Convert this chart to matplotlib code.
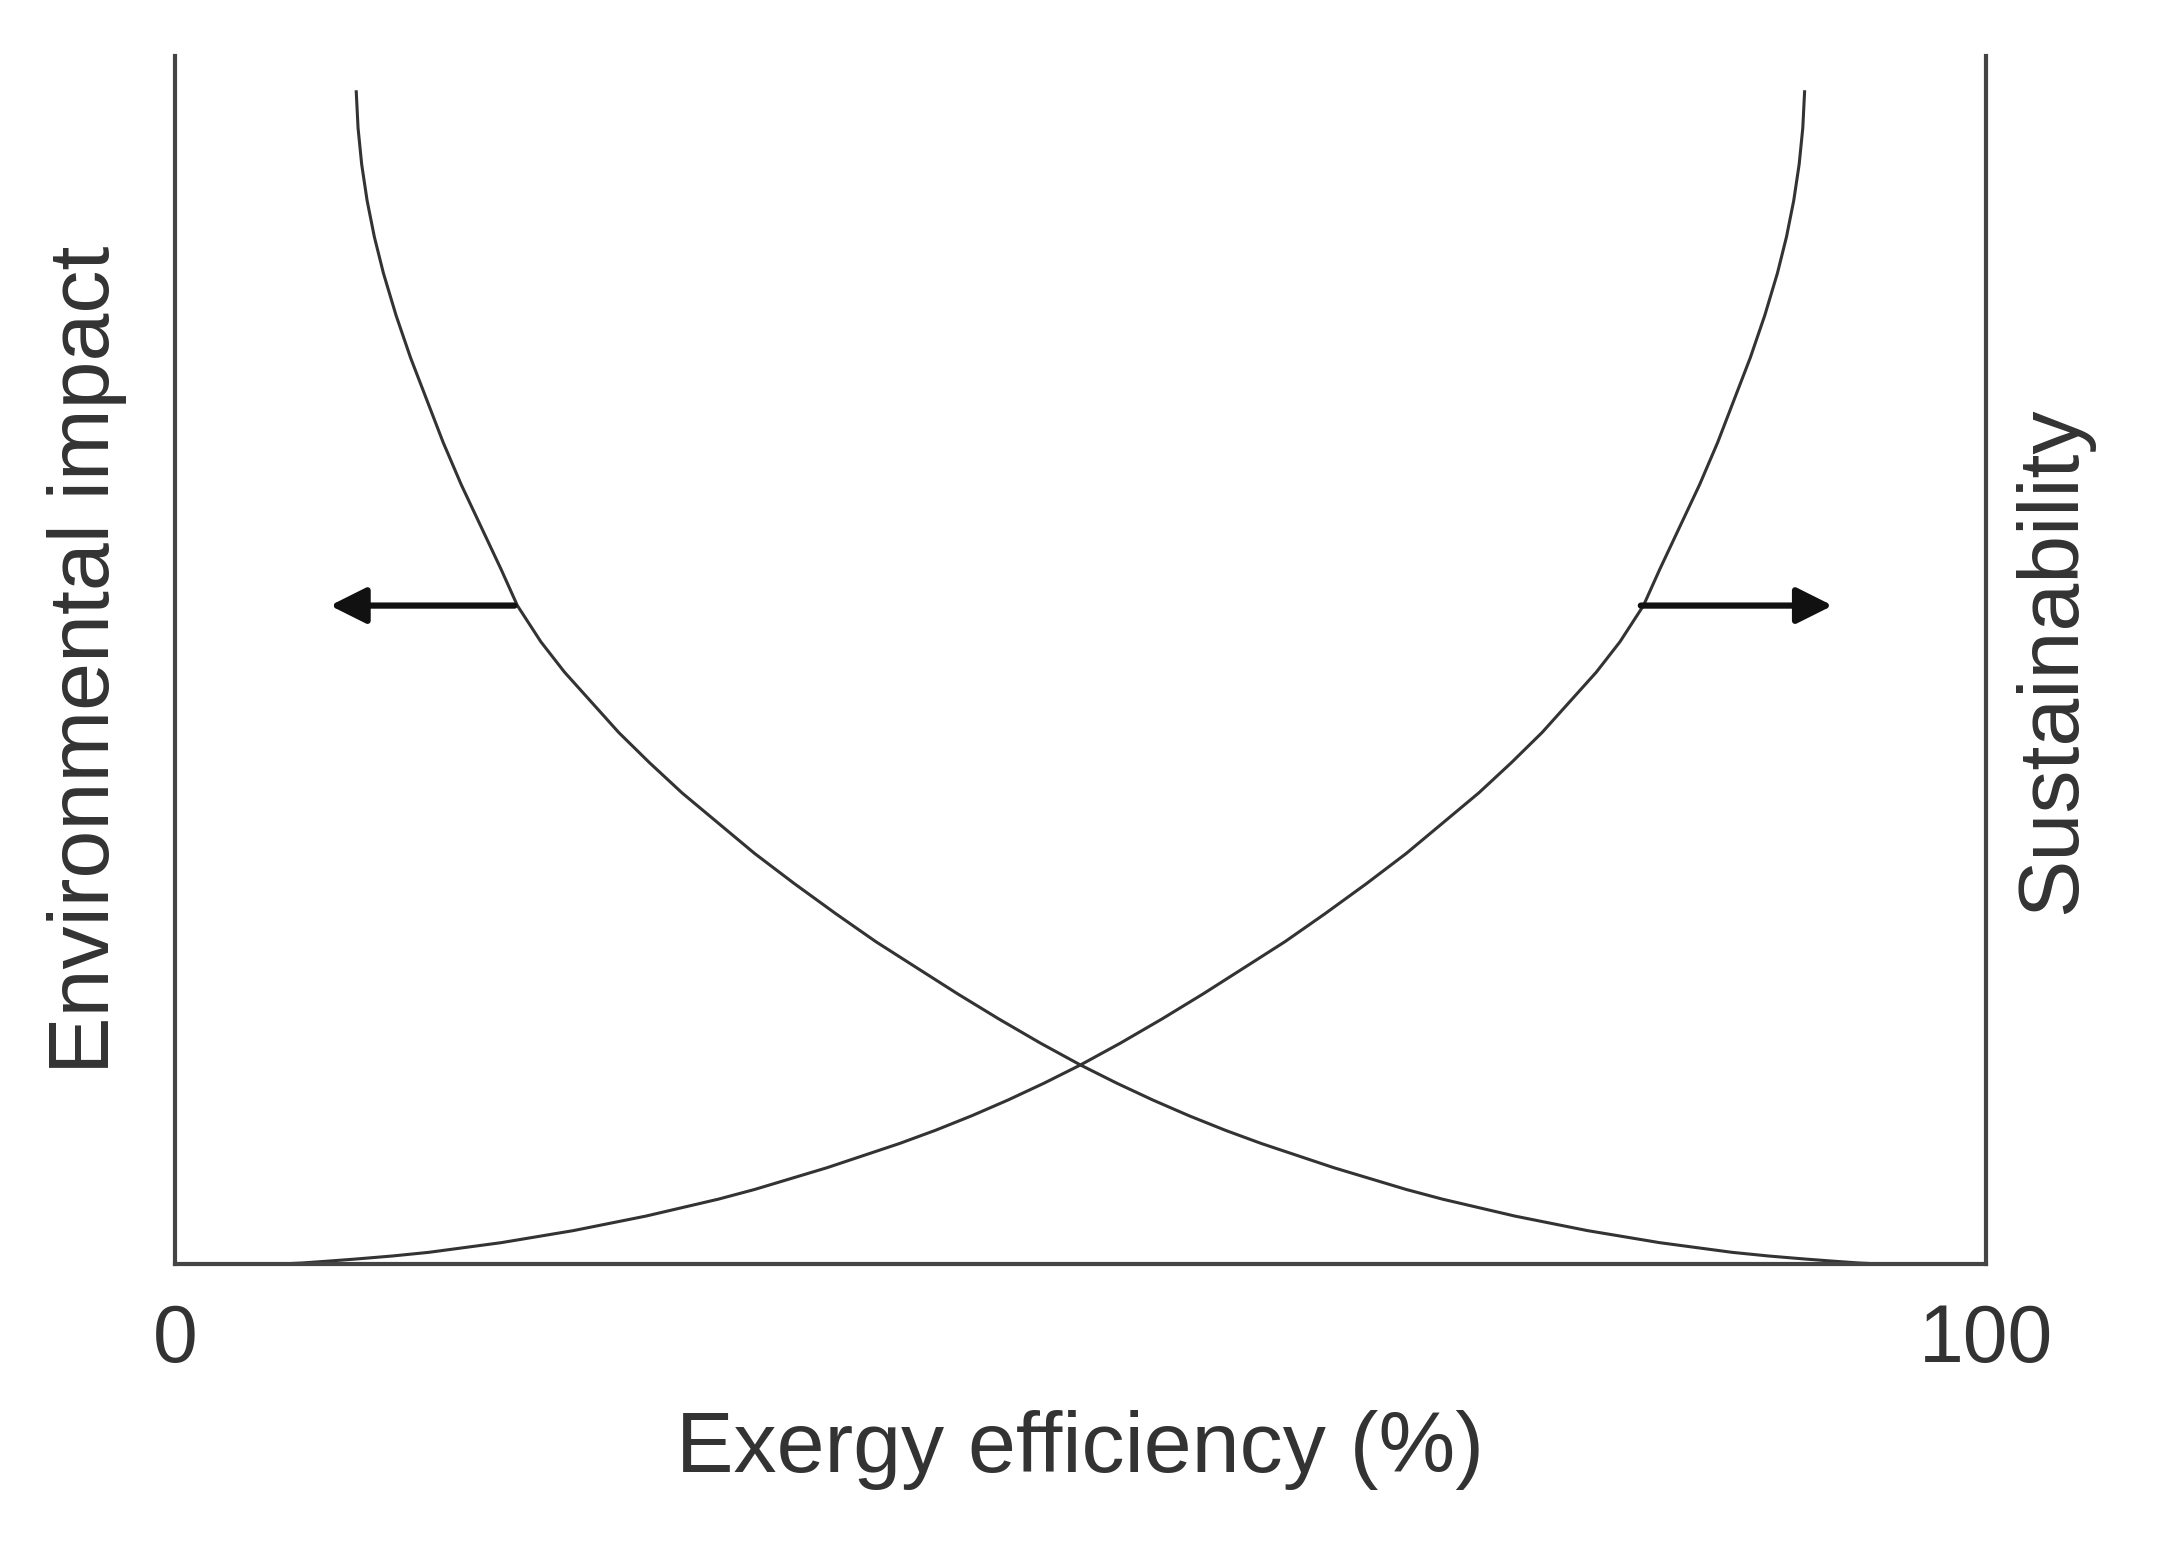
import matplotlib
matplotlib.use("Agg")
import matplotlib.pyplot as plt
import numpy as np

plt.rcParams['font.family'] = ['Liberation Sans', 'DejaVu Sans']

# Environmental impact curve (decreasing)
impact_x = [10, 10.1, 10.3, 10.6, 11.0, 11.5, 12.2, 13.0, 13.9, 14.8, 15.8, 16.9, 18.0, 18.9, 20.2, 21.5, 23.0, 24.5, 26.2, 28, 30, 32, 34.2, 36.5, 38.7, 41, 43.2, 45.5, 47.8, 50, 52, 54, 56, 58, 60, 62, 64, 66, 68, 70, 72, 74, 76, 78, 80, 82, 84, 86, 88, 90, 91.5, 93, 94, 95]
impact_y = [97, 94, 91, 88, 85, 82, 78.5, 75, 71.5, 68, 64.5, 61, 57.5, 54.5, 51.5, 49, 46.5, 44, 41.5, 39, 36.5, 34, 31.5, 29, 26.7, 24.5, 22.4, 20.3, 18.3, 16.5, 15.0, 13.6, 12.3, 11.1, 10.0, 9, 8.0, 7.1, 6.2, 5.4, 4.7, 4, 3.4, 2.8, 2.3, 1.8, 1.4, 1.0, 0.7, 0.45, 0.28, 0.12, 0.05, 0]
# Sustainability curve (increasing), mirror image
sust_x = [100 - v for v in impact_x][::-1]
sust_y = impact_y[::-1]

xlabel = "Exergy efficiency (%)"
ylabel_left = "Environmental impact"
ylabel_right = "Sustainability"
xtick_labels = ["0", "100"]

fig = plt.figure(figsize=(21.63, 15.42), dpi=100)
ax = fig.add_axes([0.081, 0.18, 0.837, 0.784])
ax.set_xlim(0, 100)
ax.set_ylim(0, 100)
col = '#333333'
ax.plot(impact_x, impact_y, color=col, lw=2.2)
ax.plot(sust_x, sust_y, color=col, lw=2.2)
ax.spines['top'].set_visible(False)
for s in ['left', 'right', 'bottom']:
    ax.spines[s].set_color('#444444')
    ax.spines[s].set_linewidth(3)
ax.set_yticks([])
ax.set_xticks([0, 100])
ax.set_xticklabels(xtick_labels, fontsize=58, color='#333333')
ax.tick_params(axis='x', length=0, pad=28)
ax.set_xlabel(xlabel, fontsize=62, color='#333333', labelpad=22)
ax.set_ylabel(ylabel_left, fontsize=62, color='#333333', labelpad=35)
ax2 = ax.twinx()
ax2.set_yticks([])
ax2.set_ylabel(ylabel_right, fontsize=62, color='#333333', labelpad=20)
for s in ax2.spines.values():
    s.set_visible(False)

ax.annotate('', xy=(8.4, 54.5), xytext=(18.9, 54.5),
            arrowprops=dict(arrowstyle='-|>,head_length=2.2,head_width=1.1', color='#111111', lw=4.5))
ax.annotate('', xy=(91.7, 54.5), xytext=(80.8, 54.5),
            arrowprops=dict(arrowstyle='-|>,head_length=2.2,head_width=1.1', color='#111111', lw=4.5))

fig.savefig('out.png', dpi=100)
